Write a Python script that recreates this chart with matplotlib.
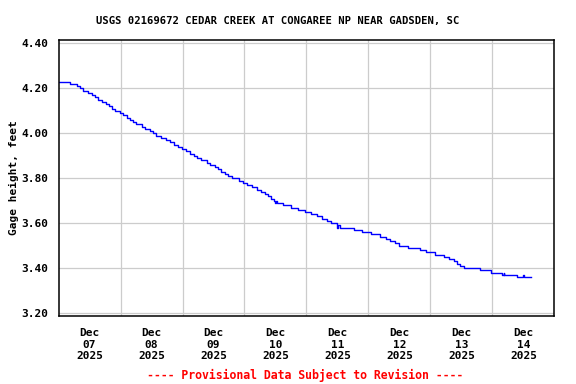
"""
USGS gage height hydrograph, Cedar Creek at Congaree NP, Dec 07-14 2025.
Saves to out.png (576x384).
"""

import numpy as np
import pandas as pd
import matplotlib
matplotlib.use('Agg')
import matplotlib.pyplot as plt
import matplotlib.dates as mdates

START = pd.Timestamp('2025-12-07 00:00')

# Step breakpoints: hours after Dec 07 00:00, gage height (ft)
step_hours = [
    0.0, 4.37, 6.97, 8.25, 9.52, 11.46, 12.77, 14.05, 15.33, 16.65,
    18.31, 19.59, 20.52, 21.79, 23.73, 25.01, 26.32, 27.60, 28.65, 29.92,
    32.25, 33.52, 35.23, 36.50, 37.78, 39.72, 41.65, 43.20, 44.52, 46.18,
    47.85, 49.39, 50.94, 52.37, 53.65, 55.20, 57.41, 58.68, 60.39, 61.66,
    62.83, 64.30, 65.80, 67.22, 69.81, 71.23, 73.01, 74.95, 76.65, 78.31,
    79.86, 81.14, 82.45, 83.46, 84.00, 84.25, 84.62, 86.94, 89.81, 92.75,
    95.23, 97.78, 99.99, 102.19, 103.86, 105.52, 107.73, 108.00, 108.25, 109.01,
    114.43, 117.41, 120.89, 124.49, 126.97, 128.52, 130.19, 131.73, 135.22, 140.13,
    142.45, 145.94, 149.15, 151.08, 153.02, 154.30, 155.61, 156.89, 163.08, 167.34,
    171.60, 172.30, 172.55, 177.68, 180.00, 180.25, 183.10,
]
step_values = [
    4.23, 4.22, 4.21, 4.20, 4.19, 4.18, 4.17, 4.16, 4.15, 4.14,
    4.13, 4.12, 4.11, 4.10, 4.09, 4.08, 4.07, 4.06, 4.05, 4.04,
    4.03, 4.02, 4.01, 4.00, 3.99, 3.98, 3.97, 3.96, 3.95, 3.94,
    3.93, 3.92, 3.91, 3.90, 3.89, 3.88, 3.87, 3.86, 3.85, 3.84,
    3.83, 3.82, 3.81, 3.80, 3.79, 3.78, 3.77, 3.76, 3.75, 3.74,
    3.73, 3.72, 3.71, 3.70, 3.69, 3.70, 3.69, 3.68, 3.67, 3.66,
    3.65, 3.64, 3.63, 3.62, 3.61, 3.60, 3.59, 3.58, 3.59, 3.58,
    3.57, 3.56, 3.55, 3.54, 3.53, 3.52, 3.51, 3.50, 3.49, 3.48,
    3.47, 3.46, 3.45, 3.44, 3.43, 3.42, 3.41, 3.40, 3.39, 3.38,
    3.37, 3.38, 3.37, 3.36, 3.37, 3.36, 3.36,
]

day_labels = ['Dec\n07\n2025', 'Dec\n08\n2025', 'Dec\n09\n2025', 'Dec\n10\n2025',
              'Dec\n11\n2025', 'Dec\n12\n2025', 'Dec\n13\n2025', 'Dec\n14\n2025']
y_ticks = [3.20, 3.40, 3.60, 3.80, 4.00, 4.20, 4.40]

TITLE = 'USGS 02169672 CEDAR CREEK AT CONGAREE NP NEAR GADSDEN, SC'
FOOTER = '---- Provisional Data Subject to Revision ----'

plt.rcParams['font.family'] = 'DejaVu Sans Mono'
plt.rcParams['font.weight'] = 'bold'

times = START + pd.to_timedelta(step_hours, unit='h')

fig = plt.figure(figsize=(5.76, 3.84), dpi=100)
ax = fig.add_axes([0.1016, 0.178, 0.861, 0.719])

ax.plot(times, step_values, drawstyle='steps-post', color='#0000ff', linewidth=1.0)

# Axis limits: full days Dec 07 - Dec 15
ax.set_xlim(START, START + pd.Timedelta(days=8))
ax.set_ylim(3.189, 4.417)

# Labels at noon, grid at midnight
noon = [START + pd.Timedelta(hours=12 + 24 * i) for i in range(len(day_labels))]
midnight = [START + pd.Timedelta(days=i) for i in range(1, 8)]
ax.set_xticks(noon)
ax.set_xticklabels(day_labels, fontsize=8, fontweight='bold', linespacing=1.2)
ax.set_xticks(midnight, minor=True)
ax.set_yticks(y_ticks)
ax.set_yticklabels([f'{v:.2f}' for v in y_ticks], fontsize=8, fontweight='bold')

ax.tick_params(axis='both', which='both', length=0)
ax.tick_params(axis='x', which='major', pad=9)
ax.tick_params(axis='y', pad=7)
ax.grid(False, axis='x', which='major')
ax.grid(True, axis='x', which='minor', color='#cccccc', linewidth=0.9)
ax.grid(True, axis='y', color='#cccccc', linewidth=0.9)
ax.set_axisbelow(True)
for sp in ax.spines.values():
    sp.set_color('black')
    sp.set_linewidth(1.1)

ax.set_ylabel('Gage height, feet', fontsize=8, fontweight='bold', labelpad=8)
ax.yaxis.set_label_coords(-0.08, 0.5)

fig.text(277.5 / 576, 1 - 20.7 / 384, TITLE, ha='center', va='center',
         fontsize=7.6, fontweight='bold')
fig.text(305 / 576, 1 - 375 / 384, FOOTER, ha='center', va='center',
         fontsize=8.3, fontweight='bold', color='#ff0000')

fig.savefig('out.png', dpi=100)
